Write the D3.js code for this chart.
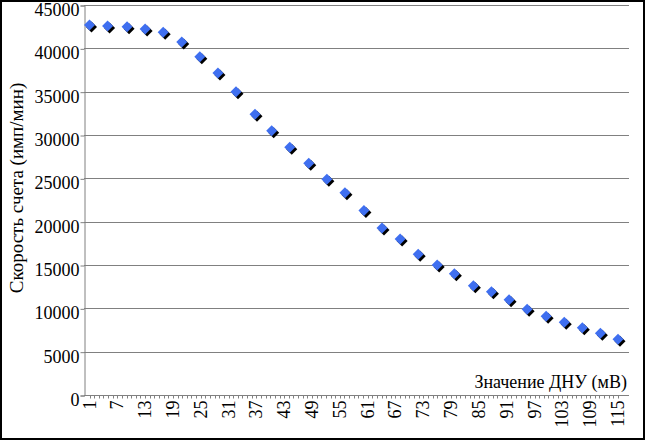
<!DOCTYPE html>
<html><head><meta charset="utf-8">
<script src="https://cdn.jsdelivr.net/npm/d3@7"></script>
<style>
html,body{margin:0;padding:0;background:#fff;}
svg{display:block;}
svg text{font-family:'Liberation Serif', 'Times New Roman', Times, serif !important;fill:#000;}
</style></head>
<body>
<svg id="c" width="646" height="441" font-family="Liberation Serif"></svg>
<script>
// ДНУ value (mV) of each measurement
const xValues = [1, 4.9, 9.1, 13, 16.9, 20.9, 24.8, 28.7, 32.6, 36.7, 40.3, 44.2, 48.3, 52.2, 56.1,
                 60.2, 64.1, 68, 71.9, 76, 79.7, 83.8, 87.7, 91.5, 95.4, 99.5, 103.4, 107.3, 111.2, 115];
// count rate (имп/мин)
const rates = [42690, 42580, 42500, 42230, 41850, 40730, 39040, 37150, 35000, 32400, 30500, 28600, 26735, 24890, 23345,
               21300, 19270, 18000, 16250, 15000, 14000, 12600, 11900, 11000, 9900, 9100, 8390, 7770, 7120, 6430];
const xTickLabels = [1, 7, 13, 19, 25, 31, 37, 43, 49, 55, 61, 67, 73, 79, 85, 91, 97, 103, 109, 115];
const yTickLabels = [0, 5000, 10000, 15000, 20000, 25000, 30000, 35000, 40000, 45000];
const yTitle = "Скорость счета (имп/мин)";
const xTitle = "Значение ДНУ (мВ)";

const svg = d3.select("#c");
const plot = {left: 84, right: 629, top: 5, bottom: 395};

svg.append("rect").attr("x", 1).attr("y", 1).attr("width", 643).attr("height", 438)
  .attr("fill", "#fff").attr("stroke", "#000").attr("stroke-width", 2);

const x = d3.scaleLinear().domain([1, 115]).range([89.5, 618]);
const y = d3.scaleLinear().domain([0, 45000]).range([plot.bottom, plot.top]);

// gridlines
svg.append("g").selectAll("line").data(yTickLabels.filter(d => d > 0)).join("line")
  .attr("x1", plot.left).attr("x2", plot.right)
  .attr("y1", d => Math.round(y(d)) + 0.5).attr("y2", d => Math.round(y(d)) + 0.5)
  .attr("stroke", "#808080").attr("stroke-width", 1);

// y axis
const yAxis = d3.axisLeft(y).tickValues(yTickLabels).tickSize(4).tickPadding(1).tickFormat(d3.format("d"));
const gy = svg.append("g").attr("transform", `translate(${plot.left + 0.5},0.5)`).call(yAxis)
  .attr("font-family", null).attr("font-size", null);
gy.select(".domain").attr("stroke", "#808080");
gy.selectAll(".tick line").attr("stroke", "#808080");
gy.selectAll("text").attr("font-size", 18).attr("dy", "0.55em").attr("fill", "#000");

// x axis: minor ticks at each unit
const minor = d3.range(1, 116);
const gx = svg.append("g").attr("transform", `translate(0,${plot.bottom + 0.5})`);
gx.append("line").attr("x1", plot.left).attr("x2", plot.right).attr("stroke", "#808080");
gx.selectAll("line.mt").data(minor).join("line").attr("class", "mt")
  .attr("x1", d => Math.round(x(d)) + 0.5).attr("x2", d => Math.round(x(d)) + 0.5)
  .attr("y1", 0).attr("y2", 3).attr("stroke", "#808080");
gx.selectAll("text").data(xTickLabels).join("text")
  .attr("transform", d => `translate(${x(d) + 6},5) rotate(-90)`)
  .attr("text-anchor", "end").attr("font-size", 18).text(d => d);

// axis titles
svg.append("text").attr("transform", "translate(23,188) rotate(-90)")
  .attr("text-anchor", "middle").attr("font-size", 19).text(yTitle);
svg.append("text").attr("x", 627).attr("y", 388).attr("text-anchor", "end")
  .attr("font-size", 18).text(xTitle);

// markers
const pts = xValues.map((v, i) => ({x: v, y: rates[i]}));
const diamond = "M0,-5.5L5.5,0L0,5.5L-5.5,0Z";
svg.append("g").selectAll("path").data(pts).join("path")
  .attr("d", diamond).attr("fill", "#000")
  .attr("transform", d => `translate(${x(d.x) + 2},${y(d.y) + 2})`);
svg.append("g").selectAll("path").data(pts).join("path")
  .attr("d", diamond).attr("fill", "#3f6ff0")
  .attr("transform", d => `translate(${x(d.x)},${y(d.y)})`);
</script>
</body></html>
